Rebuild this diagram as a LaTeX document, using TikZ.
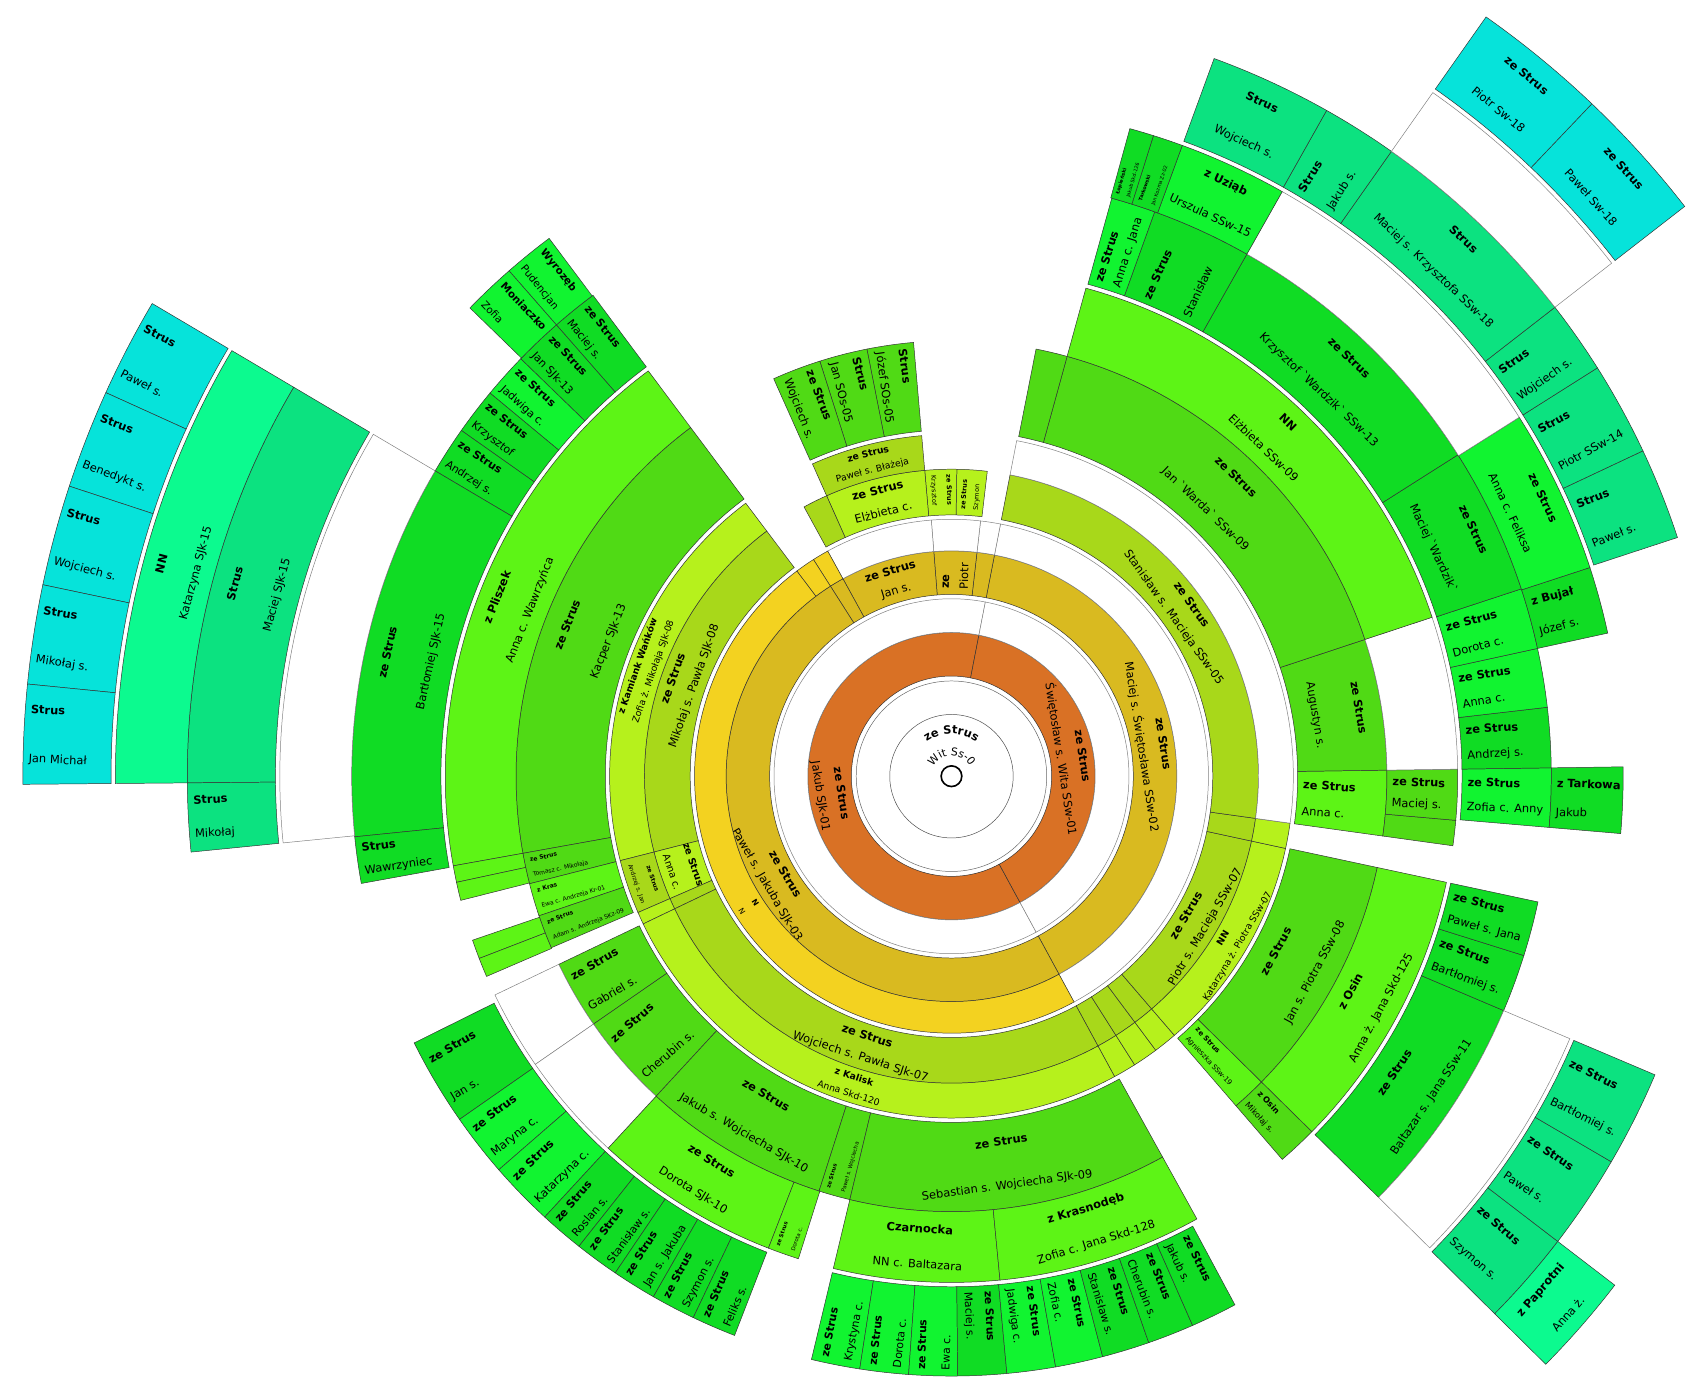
\documentclass[tikz,border=0pt]{standalone}
\usepackage{fontspec}
\setmainfont{DejaVu Sans}
\usetikzlibrary{decorations.text}
\newcommand\fs[1]{\fontsize{#1pt}{#1pt}\selectfont}
\definecolor{gA}{RGB}{217,113,37}
\definecolor{gBm}{RGB}{217,186,32}
\definecolor{gBf}{RGB}{243,210,32}
\definecolor{gCm}{RGB}{168,216,26}
\definecolor{gCf}{RGB}{182,241,28}
\definecolor{gDm}{RGB}{80,218,21}
\definecolor{gDf}{RGB}{93,244,22}
\definecolor{gEm}{RGB}{16,220,36}
\definecolor{gEf}{RGB}{17,244,48}
\definecolor{gFm}{RGB}{12,226,128}
\definecolor{gFf}{RGB}{12,250,143}
\definecolor{gGm}{RGB}{6,227,218}
\newcounter{lbl}
\tikzset{cellline/.style={draw=black!80,line width=0.45pt},
  wline/.style={draw=black!50,line width=0.45pt,fill=white},
  lbl/.style={inner sep=0pt,text=black}}
\newcommand\cell[9]{%
  \filldraw[cellline,fill=#5] (#1:#3pt) arc[start angle=#1,end angle=#2,radius=#3pt] -- (#2:#4pt) arc[start angle=#2,end angle=#1,radius=#4pt] -- cycle;%
  \ifx n#6\relax\else
    \stepcounter{lbl}%
    \pgfmathsetmacro\cMid{(#1+#2)/2}%
    \if t#6\pgfmathsetmacro\cT{mod(\cMid+630,360)}\else\pgfmathsetmacro\cT{mod(\cMid+720,360)}\fi
    \pgfmathsetmacro\cFlip{(\cT>90 && \cT<270) ? 1 : 0}%
    \pgfmathsetmacro\cRot{\cT>269.99 ? \cT-360 : (\cFlip>0.5 ? \cT-180 : \cT)}%
    \if t#6
      \pgfmathsetmacro\cRa{#3+(#4-#3)*(\cFlip>0.5 ? 0.25 : 0.75)}%
      \pgfmathsetmacro\cRb{#3+(#4-#3)*(\cFlip>0.5 ? 0.75 : 0.25)}%
      \node[lbl,rotate=\cRot,font=\fs{#7}\bfseries] (L\thelbl a) at (\cMid:\cRa pt) {#8};%
      \node[lbl,rotate=\cRot,font=\fs{#7}] (L\thelbl b) at (\cMid:\cRb pt) {#9};%
    \else
      \pgfmathsetmacro\cAa{#1+(#2-#1)*(\cFlip>0.5 ? 0.25 : 0.75)}%
      \pgfmathsetmacro\cAb{#1+(#2-#1)*(\cFlip>0.5 ? 0.75 : 0.25)}%
      \pgfmathsetmacro\cRs{\cFlip>0.5 ? #4-5 : #3+5}%
      \node[lbl,anchor=west,rotate=\cRot,font=\fs{#7}\bfseries] (L\thelbl a) at (\cAa:\cRs pt) {#8};%
      \node[lbl,anchor=west,rotate=\cRot,font=\fs{#7}] (L\thelbl b) at (\cAb:\cRs pt) {#9};%
    \fi
  \fi}
\newcommand\wcell[4]{%
  \filldraw[wline] (#1:#3pt) arc[start angle=#1,end angle=#2,radius=#3pt] -- (#2:#4pt) arc[start angle=#2,end angle=#1,radius=#4pt] -- cycle;}
\begin{document}
\begin{tikzpicture}
\fill[white] (-874pt,-570pt) rectangle (694pt,713pt);
\useasboundingbox (-874pt,-570pt) rectangle (694pt,713pt);
% centre
\draw[black!60,line width=0.45pt] (0,0) circle (87.5pt);
\draw[black!70,line width=0.45pt] (0,0) circle (56.7pt);
\draw[line width=1.5pt] (0,0) circle (9.5pt);
\coordinate (ctr) at (0,0);
\path[decorate,decoration={text along path,text align=center,text={|\fs{10.5}\bfseries|ze Strus}}] (140:39pt) arc[start angle=140,end angle=40,radius=39pt];
\path[decorate,decoration={text along path,text align=center,text={|\fs{10}|Wit Ss-0}}] (175:19pt) arc[start angle=175,end angle=5,radius=19pt];
% gen1
\cell{79}{298.5}{92}{132}{gA}{t}{10.5}{ze Strus}{Jakub SJk-01}
\cell{-61.5}{79}{92}{132}{gA}{t}{10.5}{ze Strus}{Świętosław s. Wita SSw-01}
\wcell{79}{298.5}{132}{163}
\wcell{-61.5}{79}{132}{163}
% gen2
\cell{-61.5}{79}{167}{207}{gBm}{t}{10.5}{ze Strus}{Maciej s. Świętosława SSw-02}
\cell{79}{83.5}{167}{207}{gBm}{n}{}{}{}
\cell{83.5}{94.5}{167}{207}{gBm}{r}{10.5}{ze}{Piotr}
\cell{94.5}{118.8}{167}{207}{gBm}{t}{10.5}{ze Strus}{Jan s.}
\cell{118.8}{122.5}{167}{207}{gBm}{n}{}{}{}
\cell{122.5}{298.5}{167}{207}{gBm}{t}{10.5}{ze Strus}{Paweł s. Jakuba SJk-03}
\wcell{-61.5}{79}{207}{236}
\wcell{79}{83.5}{207}{236}
\wcell{83.5}{94.5}{207}{236}
\wcell{94.5}{118.8}{207}{236}
\cell{118.8}{122.5}{207}{236}{gBf}{n}{}{}{}
\cell{122.5}{127}{207}{236}{gBf}{n}{}{}{}
\cell{127}{298.5}{207}{236}{gBf}{t}{7}{N}{N}
% gen3
\cell{-61.5}{-57.6}{240}{282}{gCm}{n}{}{}{}
\cell{-57.6}{-53.3}{240}{282}{gCm}{n}{}{}{}
\cell{-53.3}{-49.3}{240}{282}{gCm}{n}{}{}{}
\cell{-49.3}{-12.2}{240}{282}{gCm}{t}{10.5}{ze Strus}{Piotr s. Macieja SSw-07}
\cell{-12.2}{-7.9}{240}{282}{gCm}{n}{}{}{}
\cell{-7.9}{79}{240}{282}{gCm}{t}{10.5}{ze Strus}{Stanisław s. Macieja SSw-05}
\cell{83.3}{89}{240}{282}{gCf}{r}{6}{ze Strus}{Szymon}
\cell{89}{95}{240}{282}{gCf}{r}{6}{ze Strus}{Krzysztof}
\cell{95}{114}{240}{282}{gCf}{t}{10.5}{ze Strus}{Elżbieta c.}
\cell{114}{118.7}{240}{282}{gCm}{n}{}{}{}
\cell{127}{194.3}{240}{282}{gCm}{t}{10.5}{ze Strus}{Mikołaj s. Pawła SJk-08}
\cell{194.3}{203.5}{240}{282}{gCf}{t}{9}{ze Strus}{Anna c.}
\cell{203.5}{205.6}{240}{282}{gCm}{n}{}{}{}
\cell{205.6}{298.5}{240}{282}{gCm}{t}{10.5}{ze Strus}{Wojciech s. Pawła SJk-07}
\cell{-61.5}{-57.6}{282}{314}{gCf}{n}{}{}{}
\cell{-57.6}{-53.3}{282}{314}{gCf}{n}{}{}{}
\cell{-53.3}{-49.3}{282}{314}{gCf}{n}{}{}{}
\cell{-49.3}{-12.2}{282}{314}{gCf}{t}{8.5}{NN}{Katarzyna ż. Piotra SSw-07}
\cell{-12.2}{-7.9}{282}{314}{gCf}{n}{}{}{}
\wcell{-7.9}{79}{282}{314}
\cell{95}{114}{282}{314}{gCm}{t}{8.5}{ze Strus}{Paweł s. Błażeja}
\cell{127}{194.3}{282}{314}{gCf}{t}{8.5}{z Kamiank Wańków}{Zofia ż. Mikołaja SJk-08}
\cell{194.3}{203.5}{282}{314}{gCm}{t}{5.5}{ze Strus}{Andrzej s. Jan}
\cell{203.5}{205.6}{282}{314}{gCf}{n}{}{}{}
\cell{205.6}{298.5}{282}{314}{gCf}{t}{8.5}{z Kalisk}{Anna Skd-120}
% gen4
\cell{-49.2}{-44.6}{318}{400}{gDf}{r}{6.5}{ze Strus}{Agnieszka SSw-19}
\cell{-44.6}{-12.1}{318}{400}{gDm}{t}{10.5}{ze Strus}{Jan s. Piotra SSw-08}
\cell{-7.9}{0.8}{318}{400}{gDf}{r}{10.5}{ze Strus}{Anna c.}
\cell{0.8}{18.3}{318}{400}{gDm}{t}{10.5}{ze Strus}{Augustyn s.}
\cell{18.3}{74.6}{318}{400}{gDm}{t}{10.5}{ze Strus}{Jan \textasciigrave Warda\textasciigrave\ SSw-09}
\cell{74.6}{78.8}{318}{400}{gDm}{n}{}{}{}
\cell{95}{101.2}{318}{400}{gDm}{r}{10.5}{Strus}{Józef SOs-05}
\cell{101.2}{107.6}{318}{400}{gDm}{r}{10.5}{Strus}{Jan SOs-05}
\cell{107.6}{114.1}{318}{400}{gDm}{r}{10.5}{ze Strus}{Wojciech s.}
\cell{126.8}{190.2}{318}{400}{gDm}{t}{10.5}{ze Strus}{Kacper SJk-13}
\cell{190.2}{194.3}{318}{400}{gDm}{r}{5.5}{ze Strus}{Tomasz c. Mikołaja}
\cell{194.3}{198.7}{318}{400}{gDf}{r}{5.5}{z Kras}{Ewa c. Andrzeja Kr-01}
\cell{198.7}{203.2}{318}{400}{gDm}{r}{5.5}{ze Strus}{Adam s. Andrzeja SKz-09}
\cell{205.6}{214.7}{318}{400}{gDm}{r}{10.5}{ze Strus}{Gabriel s.}
\cell{214.7}{227.3}{318}{400}{gDm}{r}{10.5}{ze Strus}{Cherubin s.}
\cell{227.3}{252.3}{318}{400}{gDm}{t}{10.5}{ze Strus}{Jakub s. Wojciecha SJk-10}
\cell{252.3}{256.5}{318}{400}{gDm}{r}{5}{ze Strus}{Paweł s. Wojciecha}
\cell{256.5}{299}{318}{400}{gDm}{t}{10.5}{ze Strus}{Sebastian s. Wojciecha SJk-09}
\cell{-49.2}{-44.6}{400}{465}{gDm}{r}{7.5}{z Osin}{Mikołaj s.}
\cell{-44.6}{-12.1}{400}{465}{gDf}{t}{10.5}{z Osin}{Anna ż. Jana Skd-125}
\cell{-7.9}{-5}{400}{465}{gDm}{n}{}{}{}
\cell{-5}{0.8}{400}{465}{gDm}{r}{10.5}{ze Strus}{Maciej s.}
\wcell{0.8}{18.3}{400}{465}
\cell{18.3}{74.6}{400}{465}{gDf}{t}{10.5}{NN}{Elżbieta SSw-09}
\cell{126.8}{190.2}{400}{465}{gDf}{t}{10.5}{z Pliszek}{Anna c. Wawrzyńca}
\cell{190.2}{192.1}{400}{465}{gDf}{n}{}{}{}
\cell{192.1}{194.2}{400}{465}{gDf}{n}{}{}{}
\cell{198.9}{201.1}{400}{465}{gDf}{n}{}{}{}
\cell{201.1}{203.3}{400}{465}{gDf}{n}{}{}{}
\wcell{205.6}{214.7}{400}{465}
\wcell{214.7}{227.3}{400}{465}
\cell{227.3}{248.8}{400}{465}{gDf}{t}{10.5}{ze Strus}{Dorota SJk-10}
\cell{248.8}{252.4}{400}{465}{gDf}{r}{5}{ze Strus}{Dorota c.}
\cell{256.5}{275.5}{400}{465}{gDf}{t}{10.5}{Czarnocka}{NN c. Baltazara}
\cell{275.5}{299}{400}{465}{gDf}{t}{10.5}{z Krasnodęb}{Zofia c. Jana Skd-128}
% gen5
\cell{-44.6}{-23}{469}{551}{gEm}{t}{10.5}{ze Strus}{Baltazar s. Jana SSw-11}
\cell{-23}{-17.4}{469}{551}{gEm}{r}{10.5}{ze Strus}{Bartłomiej s.}
\cell{-17.4}{-12.1}{469}{551}{gEm}{r}{10.5}{ze Strus}{Paweł s. Jana}
\cell{-4.9}{0.8}{469}{551}{gEf}{r}{10.5}{ze Strus}{Zofia c. Anny}
\cell{0.8}{6.6}{469}{551}{gEm}{r}{10.5}{ze Strus}{Andrzej s.}
\cell{6.6}{12.3}{469}{551}{gEf}{r}{10.5}{ze Strus}{Anna c.}
\cell{12.3}{18.2}{469}{551}{gEf}{r}{10.5}{ze Strus}{Dorota c.}
\cell{18.2}{32.4}{469}{551}{gEm}{t}{10.5}{ze Strus}{Maciej \textasciigrave Wardzik\textasciigrave}
\cell{32.4}{60.5}{469}{551}{gEm}{t}{10.5}{ze Strus}{Krzysztof \textasciigrave Wardzik\textasciigrave\ SSw-13}
\cell{60.5}{70.2}{469}{551}{gEm}{r}{10.5}{ze Strus}{Stanisław}
\cell{70.2}{74.5}{469}{551}{gEf}{r}{10.5}{ze Strus}{Anna c. Jana}
\cell{126.7}{131.2}{469}{551}{gEm}{r}{10}{ze Strus}{Maciej s.}
\cell{131.2}{135.9}{469}{551}{gEm}{r}{10}{ze Strus}{Jan SJk-13}
\cell{135.9}{140.3}{469}{551}{gEf}{r}{10}{ze Strus}{Jadwiga c.}
\cell{140.3}{144.8}{469}{551}{gEm}{r}{10}{ze Strus}{Krzysztof}
\cell{144.8}{149.4}{469}{551}{gEm}{r}{10}{ze Strus}{Andrzej s.}
\cell{149.4}{185.8}{469}{551}{gEm}{t}{10.5}{ze Strus}{Bartłomiej SJk-15}
\cell{185.8}{190.3}{469}{551}{gEm}{r}{10.5}{Strus}{Wawrzyniec}
\cell{206.4}{214.9}{469}{551}{gEm}{r}{10.5}{ze Strus}{Jan s.}
\cell{214.9}{221}{469}{551}{gEf}{r}{10.5}{ze Strus}{Maryna c.}
\cell{221}{227.3}{469}{551}{gEf}{r}{10.5}{ze Strus}{Katarzyna c.}
\cell{227.3}{231.6}{469}{551}{gEm}{r}{10}{ze Strus}{Roslan s.}
\cell{231.6}{235.9}{469}{551}{gEm}{r}{10}{ze Strus}{Stanisław s.}
\cell{235.9}{240.2}{469}{551}{gEm}{r}{10}{ze Strus}{Jan s. Jakuba}
\cell{240.2}{244.5}{469}{551}{gEm}{r}{10}{ze Strus}{Szymon s.}
\cell{244.5}{248.8}{469}{551}{gEm}{r}{10}{ze Strus}{Feliks s.}
\cell{256.5}{261.2}{469}{551}{gEf}{r}{10}{ze Strus}{Krystyna c.}
\cell{261.2}{265.9}{469}{551}{gEf}{r}{10}{ze Strus}{Dorota c.}
\cell{265.9}{270.6}{469}{551}{gEf}{r}{10}{ze Strus}{Ewa c.}
\cell{270.6}{275.3}{469}{551}{gEm}{r}{10}{ze Strus}{Maciej s.}
\cell{275.3}{280}{469}{551}{gEf}{r}{10}{ze Strus}{Jadwiga c.}
\cell{280}{284.6}{469}{551}{gEf}{r}{10}{ze Strus}{Zofia c.}
\cell{284.6}{289.2}{469}{551}{gEm}{r}{10}{ze Strus}{Stanisław s.}
\cell{289.2}{293.7}{469}{551}{gEm}{r}{10}{ze Strus}{Cherubin s.}
\cell{293.7}{298.2}{469}{551}{gEm}{r}{10}{ze Strus}{Jakub s.}
\wcell{-44.6}{-23}{551}{617}
\cell{-4.9}{0.8}{551}{617}{gEm}{r}{10.5}{z Tarkowa}{Jakub}
\cell{12.3}{18.1}{551}{617}{gEm}{r}{10.5}{z Bujał}{Józef s.}
\cell{18.1}{32.3}{551}{617}{gEf}{t}{10.5}{ze Strus}{Anna c. Feliksa}
\wcell{32.3}{60.5}{551}{617}
\cell{60.5}{69.9}{551}{617}{gEf}{t}{10.5}{z Uziąb}{Urszula SSw-15}
\cell{69.9}{72.5}{551}{617}{gEm}{r}{4.5}{Tarkowski}{Jan Kozma Zz-02}
\cell{72.5}{74.6}{551}{617}{gEm}{r}{4.5}{Łopieński}{Jakub Skd-126}
\cell{126.8}{131.2}{551}{617}{gEf}{r}{9.5}{Wyrozęb}{Pudencjan}
\cell{131.2}{135.8}{551}{617}{gEf}{r}{9.5}{Moniaczko}{Zofia}
\wcell{149.4}{185.7}{551}{617}
% gen6
\cell{-44.7}{-37.5}{621}{702}{gFm}{r}{10.5}{ze Strus}{Szymon s.}
\cell{-37.5}{-30.3}{621}{702}{gFm}{r}{10.5}{ze Strus}{Paweł s.}
\cell{-30.3}{-23}{621}{702}{gFm}{r}{10.5}{ze Strus}{Bartłomiej s.}
\cell{18.2}{25.2}{621}{702}{gFm}{r}{10.5}{Strus}{Paweł s.}
\cell{25.2}{32.3}{621}{702}{gFm}{r}{10.5}{Strus}{Piotr SSw-14}
\cell{32.3}{37.85}{621}{702}{gFm}{r}{10.5}{Strus}{Wojciech s.}
\cell{37.85}{54.85}{621}{702}{gFm}{t}{10.5}{Strus}{Maciej s. Krzysztofa SSw-18}
\cell{54.85}{60.6}{621}{702}{gFm}{r}{10.5}{Strus}{Jakub s.}
\cell{60.6}{69.9}{621}{702}{gFm}{t}{10.5}{Strus}{Wojciech s.}
\cell{149.4}{180.5}{621}{702}{gFm}{t}{10.5}{Strus}{Maciej SJk-15}
\cell{180.5}{185.7}{621}{702}{gFm}{r}{10.5}{Strus}{Mikołaj}
\cell{-44.7}{-37.5}{702}{768}{gFf}{t}{10.5}{z Paprotni}{Anna ż.}
\wcell{37.85}{54.85}{702}{768}
\cell{149.4}{180.5}{702}{768}{gFf}{t}{10.5}{NN}{Katarzyna SJk-15}
% gen7
\cell{37.85}{46.4}{772}{853}{gGm}{t}{10.5}{ze Strus}{Paweł Sw-18}
\cell{46.4}{54.85}{772}{853}{gGm}{t}{10.5}{ze Strus}{Piotr Sw-18}
\cell{149.4}{155.6}{772}{853}{gGm}{r}{10.5}{Strus}{Paweł s.}
\cell{155.6}{161.8}{772}{853}{gGm}{r}{10.5}{Strus}{Benedykt s.}
\cell{161.8}{168.1}{772}{853}{gGm}{r}{10.5}{Strus}{Wojciech s.}
\cell{168.1}{174.3}{772}{853}{gGm}{r}{10.5}{Strus}{Mikołaj s.}
\cell{174.3}{180.5}{772}{853}{gGm}{r}{10.5}{Strus}{Jan Michał}
\end{tikzpicture}
\end{document}
